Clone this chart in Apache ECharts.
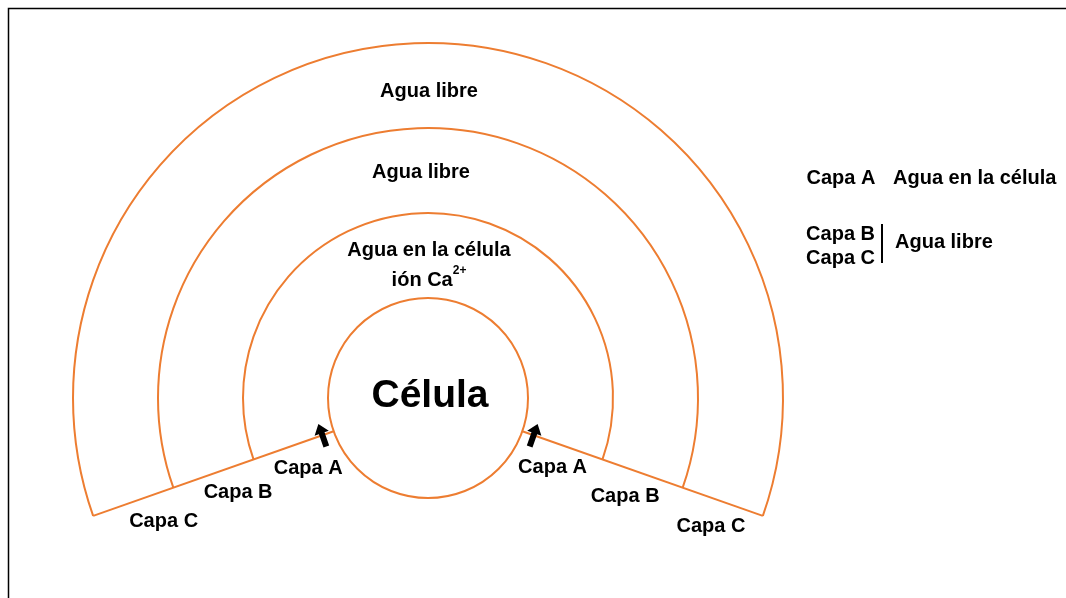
<!DOCTYPE html>
<html>
<head>
<meta charset="utf-8">
<script src="https://cdn.jsdelivr.net/npm/echarts@6/dist/echarts.min.js"></script>
<style>
  html, body { margin: 0; padding: 0; background: #fff; }
  #main { width: 1066px; height: 598px; }
</style>
</head>
<body>
<div id="main"></div>
<script>
// diagram data: radii of the cell and the three water layers (outer edges)
var ringRadii = [100, 185, 270, 355];
var wedgeDeg = 19.4;               // opening angle of the cut, below horizontal
var ringTexts = ['Agua en la célula\nión Ca{sup|2+}', 'Agua libre', 'Agua libre'];
var layerNames = ['Capa A', 'Capa B', 'Capa C'];
var cellName = 'Célula';
var sides = [-1, 1];
var legendA = ['Capa A', 'Agua en la célula'];
var legendBC = ['Capa B', 'Capa C', 'Agua libre'];

var orange = '#ED7D31';
var font = '"Liberation Sans", Arial, sans-serif';
var labelFont = 'bold 20px ' + font;
var w = wedgeDeg * Math.PI / 180;

// point at radius r on the cut line of one side, pushed off the line by n
function cutPoint(side, r, n) {
    var dx = side * Math.cos(w), dy = -Math.sin(w);
    var nx = -side * Math.sin(w), ny = -Math.cos(w);
    return [r * dx + n * nx, r * dy + n * ny];
}

var chart = echarts.init(document.getElementById('main'));

var option = {
    animation: false,
    grid: { left: 8, top: 8, width: 1058, height: 590 },
    xAxis: { type: 'value', min: -420, max: 638, show: false },
    yAxis: { type: 'value', min: -200, max: 390, show: false },
    graphic: [
        { type: 'rect', shape: { x: 8.5, y: 8.5, width: 1200, height: 800 },
          style: { fill: 'none', stroke: '#000', lineWidth: 1.5 } },
        { type: 'text', x: 841, y: 178, style: { text: legendA[0], font: labelFont, fill: '#000', align: 'center', verticalAlign: 'middle' } },
        { type: 'text', x: 893, y: 178, style: { text: legendA[1], font: labelFont, fill: '#000', align: 'left', verticalAlign: 'middle' } },
        { type: 'text', x: 875, y: 234, style: { text: legendBC[0], font: labelFont, fill: '#000', align: 'right', verticalAlign: 'middle' } },
        { type: 'text', x: 875, y: 258, style: { text: legendBC[1], font: labelFont, fill: '#000', align: 'right', verticalAlign: 'middle' } },
        { type: 'line', shape: { x1: 882, y1: 224, x2: 882, y2: 263 }, style: { stroke: '#000', lineWidth: 2 } },
        { type: 'text', x: 895, y: 242, style: { text: legendBC[2], font: labelFont, fill: '#000', align: 'left', verticalAlign: 'middle' } }
    ],
    series: [
        {
            // cell circle and the layer arcs
            type: 'custom',
            coordinateSystem: 'cartesian2d',
            data: ringRadii.map(function (r, i) { return [i, r]; }),
            renderItem: function (params, api) {
                var i = api.value(0);
                var c = api.coord([0, 0]);
                var r = api.size([api.value(1), 0])[0];
                var shape = { cx: c[0], cy: c[1], r: r };
                if (i > 0) {
                    shape.startAngle = w;
                    shape.endAngle = Math.PI - w;
                    shape.clockwise = false;
                    return { type: 'arc', shape: shape, style: { stroke: orange, fill: 'none', lineWidth: 2 } };
                }
                return { type: 'circle', shape: shape, style: { stroke: orange, fill: 'none', lineWidth: 2 } };
            }
        },
        {
            // the two straight cut lines
            type: 'custom',
            coordinateSystem: 'cartesian2d',
            data: sides.map(function (s) { return [s]; }),
            renderItem: function (params, api) {
                var s = api.value(0);
                var p1 = api.coord(cutPoint(s, ringRadii[0], 0));
                var p2 = api.coord(cutPoint(s, ringRadii[3], 0));
                return { type: 'line', shape: { x1: p1[0], y1: p1[1], x2: p2[0], y2: p2[1] },
                         style: { stroke: orange, lineWidth: 2 } };
            }
        },
        {
            // arrows pointing into layer A
            type: 'custom',
            coordinateSystem: 'cartesian2d',
            data: sides.map(function (s) { return [s]; }),
            renderItem: function (params, api) {
                var s = api.value(0);
                var t = api.coord(cutPoint(s, 112, 12));
                var h = api.coord(cutPoint(s, 112, -12));
                var dx = h[0] - t[0], dy = h[1] - t[1];
                var len = Math.sqrt(dx * dx + dy * dy);
                var ux = dx / len, uy = dy / len, px = -uy, py = ux;
                var hl = 10, sw = 3, hw = 7.5;
                var bx = h[0] - ux * hl, by = h[1] - uy * hl;
                var pts = [
                    [t[0] + px * sw, t[1] + py * sw],
                    [bx + px * sw, by + py * sw],
                    [bx + px * hw, by + py * hw],
                    [h[0], h[1]],
                    [bx - px * hw, by - py * hw],
                    [bx - px * sw, by - py * sw],
                    [t[0] - px * sw, t[1] - py * sw]
                ];
                return { type: 'polygon', shape: { points: pts }, style: { fill: '#000' } };
            }
        },
        {
            // layer names along the cut lines
            type: 'custom',
            coordinateSystem: 'cartesian2d',
            data: [].concat.apply([], sides.map(function (s) {
                return layerNames.map(function (n, i) { return [s, i]; });
            })),
            renderItem: function (params, api) {
                var s = api.value(0), i = api.value(1);
                var mid = (ringRadii[i] + ringRadii[i + 1]) / 2;
                var shift = s < 0 ? [-6, -17, -22] : [-2, -9, -3];
                var gap = s < 0 ? [27, 26, 29] : [24, 27, 27];
                var p = api.coord(cutPoint(s, mid + shift[i], gap[i]));
                return { type: 'text', x: p[0], y: p[1],
                         style: { text: layerNames[i], font: labelFont, fill: '#000',
                                  align: 'center', verticalAlign: 'middle' } };
            }
        },
        {
            // texts inside the layers and the cell
            type: 'custom',
            coordinateSystem: 'cartesian2d',
            data: ringTexts.map(function (t, i) { return [i]; }).concat([[-1]]),
            renderItem: function (params, api) {
                var i = api.value(0);
                if (i < 0) {
                    var c = api.coord([0, 0]);
                    return { type: 'text', x: c[0] + 2, y: c[1] - 2,
                             style: { text: cellName, font: 'bold 39px ' + font, fill: '#000',
                                      align: 'center', verticalAlign: 'middle' } };
                }
                var mid = (ringRadii[i] + ringRadii[i + 1]) / 2;
                var off = i === 0 ? -9.5 : (i === 1 ? -2 : -6);
                var p = api.coord([i === 1 ? -7 : 1, mid + off]);
                return { type: 'text', x: p[0], y: p[1],
                         style: { text: ringTexts[i], font: labelFont, fill: '#000',
                                  align: 'center', verticalAlign: 'middle', lineHeight: 30,
                                  rich: { sup: { fontSize: 12, fontWeight: 'bold', fontFamily: font,
                                                 verticalAlign: 'top', lineHeight: 30, padding: [0, 0, 6, 0] } } } };
            }
        }
    ]
};

chart.setOption(option);
</script>
</body>
</html>
